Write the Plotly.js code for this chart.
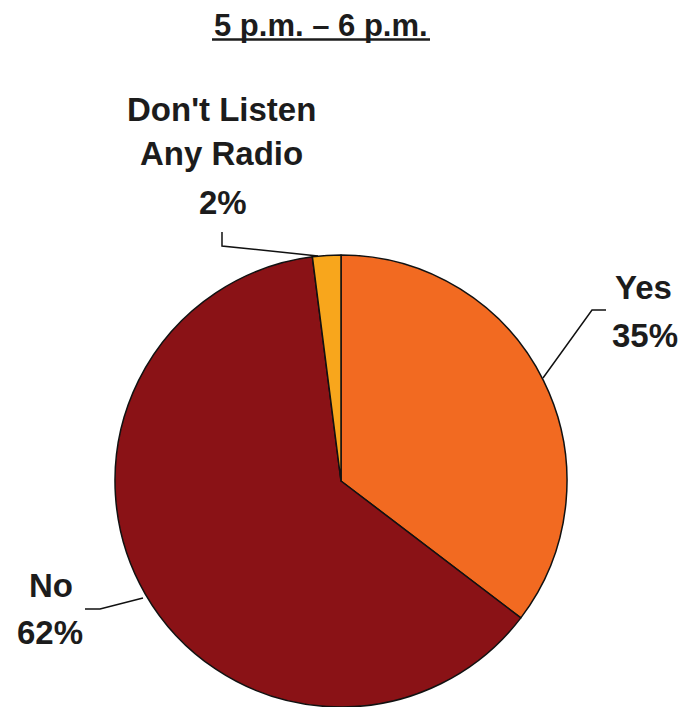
<!DOCTYPE html>
<html>
<head>
<meta charset="utf-8">
<script src="https://cdn.plot.ly/plotly-3.0.1.min.js"></script>
<style>html,body{margin:0;padding:0;background:#fff;}#chart{width:687px;height:707px;}</style>
</head>
<body>
<div id="chart"></div>
<script>
const categories = ["Yes", "No", "Don't Listen Any Radio"];
const values = [35, 62, 2];
const percentLabels = ["35%", "62%", "2%"];
const colors = ["#F26A21", "#8A1216", "#F8A61C"];
const titleText = "5 p.m. \u2013 6 p.m.";

const W = 687, H = 707;
const px = x => x / W;
const py = y => 1 - y / H;
const FONT = "Liberation Sans, Arial, sans-serif";
const TXT = "#1c1c1c";

const trace = {
  type: "pie",
  labels: categories,
  values: values,
  sort: false,
  direction: "clockwise",
  rotation: 0,
  textinfo: "none",
  hoverinfo: "label+percent",
  marker: { colors: colors, line: { color: "#111", width: 1.5 } },
  domain: { x: [px(115), px(567)], y: [0, py(255)] },
  showlegend: false
};

function lab(text, x, y, size) {
  return { text: "<b>" + text + "</b>", x: px(x), y: py(y), xref: "paper", yref: "paper",
    xanchor: "center", yanchor: "middle", showarrow: false,
    font: { family: FONT, size: size, color: TXT } };
}

const annotations = [
  lab(titleText, 321, 25, 31),
  lab("Don't Listen", 222, 109, 33),
  lab("Any Radio", 222, 154, 33),
  lab(percentLabels[2], 223, 202, 33),
  lab(categories[0], 643, 287, 33),
  lab(percentLabels[0], 645, 335, 33),
  lab(categories[1], 51, 585, 33),
  lab(percentLabels[1], 50, 632, 33)
];

function path(pts) {
  return pts.map((p, i) => (i ? "L" : "M") + px(p[0]).toFixed(5) + "," + py(p[1]).toFixed(5)).join(" ");
}
const lineStyle = { color: "#111", width: 1.5 };
const shapes = [
  { type: "path", xref: "paper", yref: "paper", path: path([[222, 232], [222, 246], [318, 256]]), line: lineStyle },
  { type: "path", xref: "paper", yref: "paper", path: path([[543, 378], [592, 310], [606, 310]]), line: lineStyle },
  { type: "path", xref: "paper", yref: "paper", path: path([[85, 609], [100, 609], [143, 598]]), line: lineStyle },
  { type: "line", xref: "paper", yref: "paper", x0: px(212), x1: px(430), y0: py(39.5), y1: py(39.5), line: { color: TXT, width: 2.5 } }
];

Plotly.newPlot("chart", [trace], {
  width: W, height: H,
  margin: { l: 0, r: 0, t: 0, b: 0 },
  paper_bgcolor: "#fff",
  annotations: annotations,
  shapes: shapes
}, { displayModeBar: false, staticPlot: true });
</script>
</body>
</html>
